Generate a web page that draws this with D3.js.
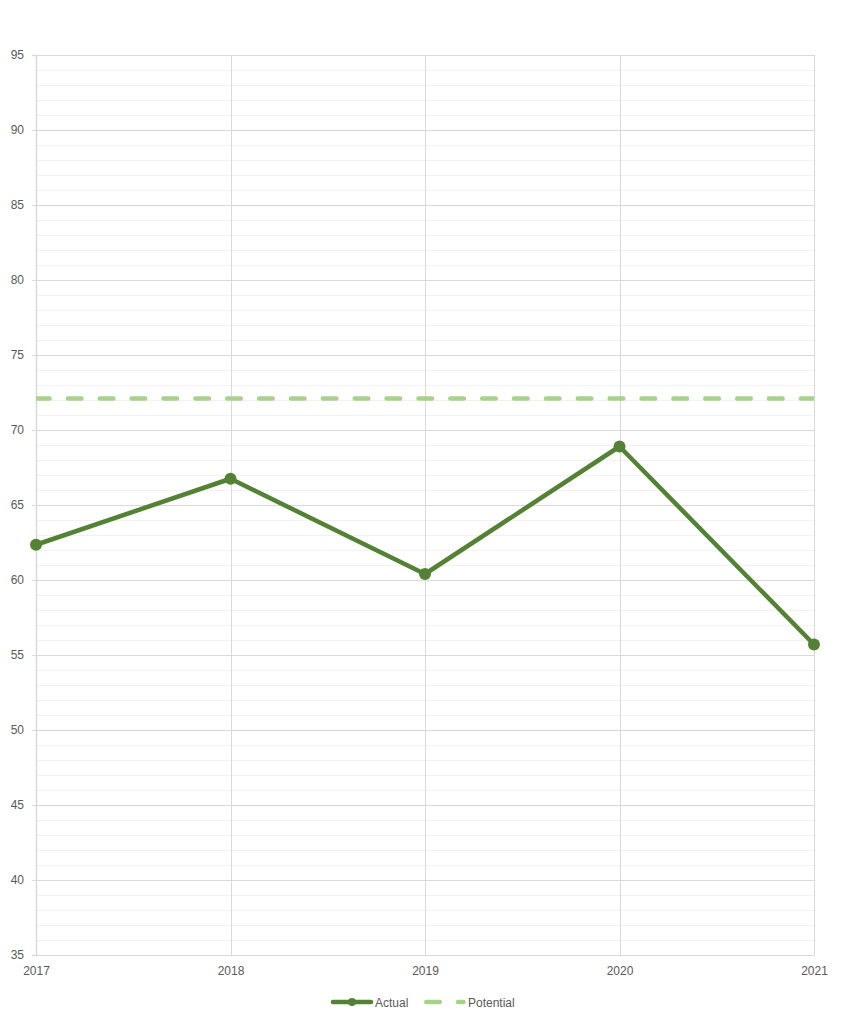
<!DOCTYPE html>
<html><head><meta charset="utf-8">
<script src="https://cdn.jsdelivr.net/npm/d3@7"></script>
<style>body{margin:0;background:#fff;font-family:"Liberation Sans",Arial,sans-serif;}</style>
</head><body><div id="chart"></div>
<script>
const years = ["2017","2018","2019","2020","2021"];
const actual = [62.35, 66.75, 60.4, 68.9, 55.7];
const potential = [72.1, 72.1, 72.1, 72.1, 72.1];
const yTicks = [35,40,45,50,55,60,65,70,75,80,85,90,95];
const seriesNames = ["Actual","Potential"];

(function(){
const W=844,H=1024;
const svg=d3.select("#chart").append("svg").attr("width",W).attr("height",H);
const pL=36,pR=814,pT=55,pB=955;
const x=d3.scalePoint().domain(years).range([pL,pR]);
const y=d3.scaleLinear().domain([35,95]).range([pB,pT]);

svg.append("defs").append("clipPath").attr("id","plotclip").append("rect")
 .attr("x",pL).attr("y",pT-10).attr("width",pR-pL).attr("height",pB-pT+20);

// minor gridlines
svg.append("g").selectAll("line").data(d3.range(35,96,1).filter(v=>v%5!==0)).join("line")
 .attr("x1",pL).attr("x2",pR).attr("y1",d=>Math.round(y(d))+0.5).attr("y2",d=>Math.round(y(d))+0.5)
 .attr("stroke","#f2f2f2").attr("stroke-width",1);
// major gridlines
svg.append("g").selectAll("line").data(yTicks.slice(1)).join("line")
 .attr("x1",pL).attr("x2",pR).attr("y1",d=>Math.round(y(d))+0.5).attr("y2",d=>Math.round(y(d))+0.5)
 .attr("stroke","#d9d9d9").attr("stroke-width",1);
// vertical gridlines
svg.append("g").selectAll("line").data(years.slice(1)).join("line")
 .attr("x1",d=>Math.round(x(d))+0.5).attr("x2",d=>Math.round(x(d))+0.5).attr("y1",pT).attr("y2",pB)
 .attr("stroke","#d9d9d9").attr("stroke-width",1);

// y axis
const ya=svg.append("g").attr("transform",`translate(${pL},0)`)
 .call(d3.axisLeft(y).tickValues(yTicks).tickSize(4).tickPadding(8));
ya.select(".domain").attr("stroke","#d9d9d9").attr("stroke-width",1.5);
ya.selectAll(".tick line").attr("stroke","#d9d9d9");
ya.selectAll("text").attr("fill","#595959").style("font-size","12px").style("font-family","'Liberation Sans',Arial,sans-serif");
// x axis
const xa=svg.append("g").attr("transform",`translate(0,${pB})`)
 .call(d3.axisBottom(x).tickSize(0).tickPadding(11));
xa.select(".domain").attr("stroke","#d9d9d9").attr("stroke-width",1);
xa.selectAll("text").attr("fill","#595959").style("font-size","12px").style("font-family","'Liberation Sans',Arial,sans-serif");

// potential
const line=d3.line().x((d,i)=>x(years[i])).y(d=>y(d));
svg.append("path").datum(potential).attr("d",line).attr("fill","none").attr("clip-path","url(#plotclip)")
 .attr("stroke","#a9d18e").attr("stroke-width",4.5).attr("stroke-dasharray","13.6,18.27").attr("stroke-linecap","round");
// actual
svg.append("path").datum(actual).attr("d",line).attr("fill","none")
 .attr("stroke","#548235").attr("stroke-width",4.5).attr("stroke-linejoin","round");
svg.append("g").selectAll("circle").data(actual).join("circle")
 .attr("cx",(d,i)=>x(years[i])).attr("cy",d=>y(d)).attr("r",6).attr("fill","#548235");

// legend
const lg=svg.append("g").attr("transform","translate(0,1002)");
lg.append("line").attr("x1",333).attr("x2",371).attr("y1",0).attr("y2",0).attr("stroke","#548235").attr("stroke-width",4.5).attr("stroke-linecap","round");
lg.append("circle").attr("cx",352).attr("cy",0).attr("r",4).attr("fill","#548235");
lg.append("text").attr("x",375).attr("y",4.5).text(seriesNames[0]).attr("fill","#595959").style("font-size","12px");
lg.append("line").attr("x1",426.25).attr("x2",463.5).attr("y1",0).attr("y2",0).attr("stroke","#a9d18e").attr("stroke-width",4.5).attr("stroke-linecap","round").attr("stroke-dasharray","13.6,18.27");
lg.append("text").attr("x",468).attr("y",4.5).text(seriesNames[1]).attr("fill","#595959").style("font-size","12px");
})();
</script></body></html>
